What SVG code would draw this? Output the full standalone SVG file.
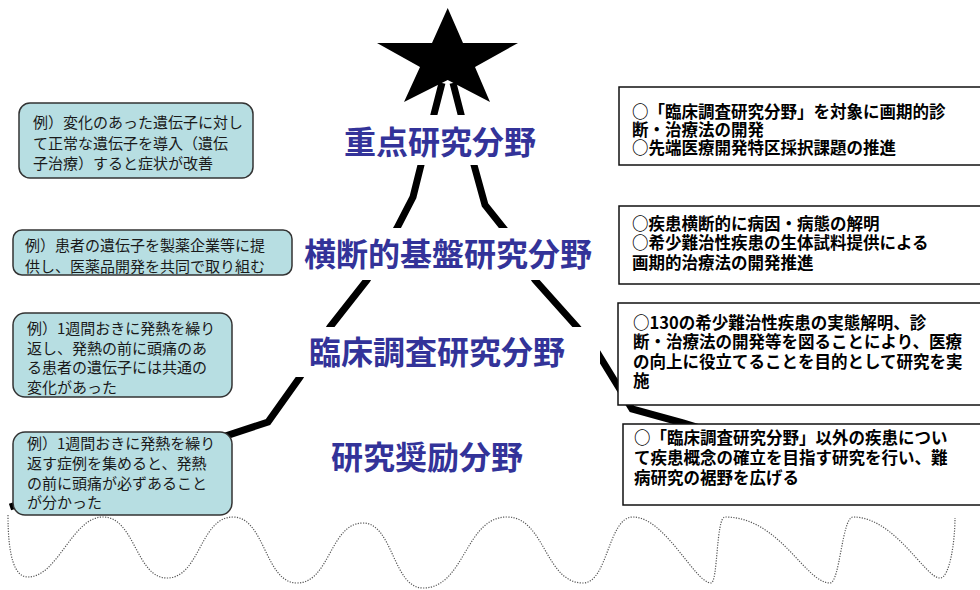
<svg xmlns="http://www.w3.org/2000/svg" width="980" height="590" viewBox="0 0 980 590">
<style>
.ex rect{fill:#b7dee2;stroke:#333;stroke-width:1.5}
.ex text{font-family:"Noto Sans CJK JP","Noto Sans CJK SC",sans-serif;font-size:15px;fill:#1a1a1a}
.rb rect{fill:#fff;stroke:#111;stroke-width:1.5}
.rb text{font-family:"Noto Sans CJK JP","Noto Sans CJK SC",sans-serif;font-size:16.5px;font-weight:700;fill:#000}
.lab rect{fill:#fff;stroke:none}
.lab text{font-family:"Noto Sans CJK JP","Noto Sans CJK SC",sans-serif;font-size:32px;font-weight:700;fill:#333399;text-anchor:middle}
.mt{fill:none;stroke:#000;stroke-width:7;stroke-linejoin:miter}
.wave{fill:none;stroke:#555;stroke-width:1.2;stroke-dasharray:1.2 1.4}
</style>
<rect width="980" height="590" fill="#fff"/>
<g id="connectors">
<polyline class="mt" points="442,83 421,165 413,197 397,228 367,280 330,327 300,377 268,422 10,507"/>
<polyline class="mt" points="453,83 474,165 485,205 505,230 535,280 577,327 597,352 632,409 683,423 700,428"/>
<path class="wave" d="M8,515 C8,555 14,577 28,577 C58,577 72,517 103,517 C135,517 136,578 167,578 C200,578 200,517 233,517 C265,517 265,583 297,583 C330,583 330,523 363,523 C393,523 393,588 423,588 C465,588 465,517 507,517 C545,517 545,583 583,583 C608,583 608,517 633,517 C665,517 695,583 711,583 C718,583 716,517 725,517 C780,517 805,583 830,583 C840,583 842,517 853,517 C895,517 925,578 940,578 C950,578 955,540 955,518"/>
</g>
<g id="star">
<polygon points="447.7,8 463,43 518,43 475,67 490,102 447.7,80 404,102 420,67 377,43 432,43" fill="#000"/>
</g>
<g id="label-juten" class="lab">
<rect x="340" y="115" width="205" height="50"/>
<text x="440" y="154">重点研究分野</text>
</g>
<g id="label-oudan" class="lab">
<rect x="295" y="228" width="305" height="52"/>
<text x="448" y="266">横断的基盤研究分野</text>
</g>
<g id="label-rinsho" class="lab">
<rect x="290" y="327" width="310" height="50"/>
<text x="437" y="364">臨床調査研究分野</text>
</g>
<g id="label-shorei" class="lab">
<text x="427" y="469">研究奨励分野</text>
</g>
<g id="ex1" class="ex">
<rect x="19" y="103" width="234" height="75" rx="11"/>
<text x="33" y="128">例）変化のあった遺伝子に対し</text>
<text x="33" y="149">て正常な遺伝子を導入（遺伝</text>
<text x="33" y="169">子治療）すると症状が改善</text>
</g>
<g id="ex2" class="ex">
<rect x="13" y="230" width="279" height="45" rx="9"/>
<text x="25" y="251">例）患者の遺伝子を製薬企業等に提</text>
<text x="25" y="272">供し、医薬品開発を共同で取り組む</text>
</g>
<g id="ex3" class="ex">
<rect x="13" y="313" width="219" height="84" rx="12"/>
<text x="27" y="334">例）1週間おきに発熱を繰り</text>
<text x="27" y="353.5">返し、発熱の前に頭痛のあ</text>
<text x="27" y="373">る患者の遺伝子には共通の</text>
<text x="27" y="392.5">変化があった</text>
</g>
<g id="ex4" class="ex">
<rect x="13" y="432" width="219" height="83" rx="12"/>
<text x="27" y="449">例）1週間おきに発熱を繰り</text>
<text x="27" y="469">返す症例を集めると、発熱</text>
<text x="27" y="489">の前に頭痛が必ずあること</text>
<text x="27" y="508">が分かった</text>
</g>
<g id="r1" class="rb">
<rect x="619" y="87" width="380" height="78"/>
<text x="632" y="117.5">○「臨床調査研究分野」を対象に画期的診</text>
<text x="632" y="135.5">断・治療法の開発</text>
<text x="632" y="153.5">○先端医療開発特区採択課題の推進</text>
</g>
<g id="r2" class="rb">
<rect x="619" y="206" width="380" height="78"/>
<text x="632" y="229.5">○疾患横断的に病因・病態の解明</text>
<text x="632" y="249">○希少難治性疾患の生体試料提供による</text>
<text x="632" y="268.5">画期的治療法の開発推進</text>
</g>
<g id="r3" class="rb">
<rect x="618" y="303" width="380" height="102"/>
<text x="633" y="328.5">○130の希少難治性疾患の実態解明、診</text>
<text x="633" y="348">断・治療法の開発等を図ることにより、医療</text>
<text x="633" y="367.5">の向上に役立てることを目的として研究を実</text>
<text x="633" y="387">施</text>
</g>
<g id="r4" class="rb">
<rect x="623" y="424" width="380" height="81"/>
<text x="634" y="443.5">○「臨床調査研究分野」以外の疾患につい</text>
<text x="634" y="463.5">て疾患概念の確立を目指す研究を行い、難</text>
<text x="634" y="483.5">病研究の裾野を広げる</text>
</g>
</svg>
